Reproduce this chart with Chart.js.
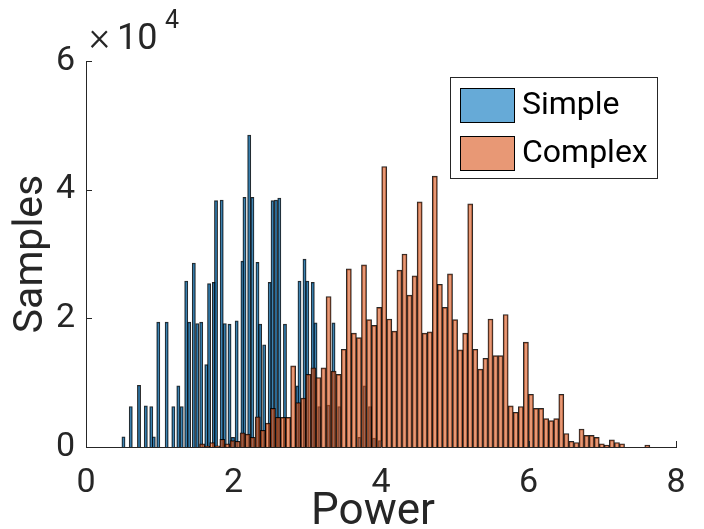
<!DOCTYPE html>
<html>
<head>
<meta charset="utf-8">
<script src="https://cdn.jsdelivr.net/npm/chart.js@4"></script>
<style>
html, body { margin: 0; padding: 0; background: #fff; }
#wrap { width: 704px; height: 529px; position: relative; }
</style>
</head>
<body>
<div id="wrap"><canvas id="chart"></canvas></div>
<script>
// Simple: bar centres (Power) and sample counts
const simplePower = [0.508, 0.607, 0.719, 0.811, 0.885, 0.919, 0.980, 1.094, 1.184, 1.252,
  1.298, 1.359, 1.399, 1.462, 1.508, 1.562, 1.631, 1.669, 1.734, 1.763,
  1.840, 1.882, 1.946, 1.993, 2.043, 2.121, 2.149, 2.213, 2.256, 2.325,
  2.361, 2.416, 2.491, 2.530, 2.576, 2.621, 2.698, 2.865, 2.895, 2.963,
  3.001, 3.075, 3.112, 3.163, 3.286, 3.356, 3.434, 3.706, 3.776, 3.851,
  3.905, 3.986];
const simpleCounts = [1600, 6300, 9600, 6400, 6300, 1600, 19400, 19400, 6300, 9500,
  6300, 25800, 19400, 28600, 19200, 19400, 12800, 25400, 25600, 38300,
  38400, 19200, 19100, 1500, 19600, 28900, 38800, 48500, 38800, 28700,
  19100, 15900, 25600, 38300, 38400, 38700, 19100, 9500, 25800, 29200,
  25800, 25600, 19300, 6300, 6500, 19300, 6300, 1500, 9500, 6300,
  1400, 1000];

// Complex: first bin edge, bin width, counts per bin
const complexFirstEdge = 1.540;
const complexBinWidth = 0.0686;
const complexCounts = [500, 150, 700, 200, 1200, 500, 1000, 900, 2200, 2000,
  1500, 4700, 2600, 3700, 6000, 4600, 4600, 4600, 12600, 6900,
  7600, 11300, 12300, 10800, 12300, 23400, 11800, 11300, 15200, 27700,
  17700, 17000, 28300, 19800, 18900, 21700, 43600, 19900, 18000, 27500,
  30000, 23600, 26600, 38100, 17700, 17900, 42100, 25300, 21700, 26900,
  19800, 15100, 17700, 37800, 15200, 12100, 13800, 19900, 14200, 14200,
  20600, 6400, 5400, 6300, 16300, 8200, 6000, 6000, 4400, 4100,
  4400, 8200, 2100, 900, 700, 2800, 1800, 1800, 1500, 500,
  300, 1100, 700, 500, 0, 0, 0, 0, 300];

const xTicks = [0, 2, 4, 6, 8];
const yTicks = [0, 20000, 40000, 60000];

const AX = '#262626';
const FONT = 'Roboto';

const simpleData = simplePower.map((p, i) => ({ x: p, y: simpleCounts[i] }));
const complexData = complexCounts.map((c, i) => ({
  x: complexFirstEdge + complexBinWidth * (i + 0.5), y: c
}));

// inward tick marks, exponent label and the boxed legend
const extras = {
  id: 'extras',
  afterDraw(chart) {
    const { ctx, chartArea: a, scales } = chart;
    ctx.save();
    ctx.strokeStyle = AX;
    ctx.lineWidth = 1;
    xTicks.forEach(v => {
      const px = Math.round(scales.x.getPixelForValue(v)) + 0.5;
      ctx.beginPath(); ctx.moveTo(px, a.bottom); ctx.lineTo(px, a.bottom - 6); ctx.stroke();
    });
    yTicks.forEach(v => {
      const py = Math.round(scales.y.getPixelForValue(v)) + 0.5;
      ctx.beginPath(); ctx.moveTo(a.left, py); ctx.lineTo(a.left + 6, py); ctx.stroke();
    });

    // x10^4
    ctx.fillStyle = AX;
    ctx.textBaseline = 'alphabetic';
    ctx.textAlign = 'left';
    ctx.font = '300 40px ' + FONT;
    ctx.fillText('\u00d7', 89, 50);
    ctx.font = '36px ' + FONT;
    ctx.fillText('10', 117, 49);
    ctx.font = '25px ' + FONT;
    ctx.fillText('4', 165, 28);

    // x-axis label, centred a little left of the axis middle as in the source
    ctx.font = '44px ' + FONT;
    ctx.textAlign = 'center';
    ctx.fillText('Power', (a.left + a.right) / 2 - 8, 524);

    // legend
    const lx = 450, ly = 77, lw = 207, lh = 101;
    ctx.textAlign = 'left';
    ctx.fillStyle = '#fff';
    ctx.fillRect(lx, ly, lw, lh);
    ctx.strokeStyle = AX;
    ctx.strokeRect(lx + 0.5, ly + 0.5, lw, lh);
    chart.data.datasets.forEach((ds, i) => {
      const sy = ly + 11 + i * 48;
      ctx.fillStyle = ds.backgroundColor;
      ctx.fillRect(lx + 10, sy, 54, 34);
      ctx.strokeStyle = '#000';
      ctx.strokeRect(lx + 10.5, sy + 0.5, 54, 34);
      ctx.fillStyle = '#000';
      ctx.font = '32px ' + FONT;
      ctx.textBaseline = 'middle';
      ctx.fillText(ds.label, lx + 72, sy + 18);
    });
    ctx.restore();
  }
};

new Chart(document.getElementById('chart'), {
  type: 'bar',
  data: {
    datasets: [
      {
        label: 'Simple',
        data: simpleData,
        backgroundColor: 'rgba(0,114,189,0.6)',
        borderColor: 'rgba(0,0,0,0.85)',
        borderWidth: 1,
        barThickness: 3.2,
        grouped: false,
        order: 1
      },
      {
        label: 'Complex',
        data: complexData,
        backgroundColor: 'rgba(217,83,25,0.6)',
        borderColor: 'rgba(0,0,0,0.85)',
        borderWidth: 1,
        barThickness: 5.1,
        grouped: false,
        order: 0
      }
    ]
  },
  options: {
    responsive: true,
    maintainAspectRatio: false,
    animation: false,
    devicePixelRatio: 1,
    layout: { padding: { top: 61, right: 28, left: 0, bottom: 0 } },
    plugins: { legend: { display: false }, tooltip: { enabled: false } },
    scales: {
      x: {
        type: 'linear',
        min: 0, max: 8,
        offset: false,
        afterFit: s => { s.height = 82; },
        afterBuildTicks: s => { s.ticks = xTicks.map(v => ({ value: v })); },
        grid: { display: false, drawTicks: false },
        border: { display: true, color: AX, width: 1 },
        ticks: { color: AX, font: { family: FONT, size: 34 }, padding: 16, maxRotation: 0 },
        title: { display: false }
      },
      y: {
        min: 0, max: 60000,
        afterFit: s => { s.width = 86; },
        afterBuildTicks: s => { s.ticks = yTicks.map(v => ({ value: v })); },
        grid: { display: false, drawTicks: false },
        border: { display: true, color: AX, width: 1 },
        ticks: { color: AX, font: { family: FONT, size: 34 }, padding: 11, callback: v => v / 10000 },
        title: { display: true, text: 'Samples', color: AX, font: { family: FONT, size: 41 }, padding: { top: 7, bottom: 0 } }
      }
    }
  },
  plugins: [extras]
});
</script>
</body>
</html>
